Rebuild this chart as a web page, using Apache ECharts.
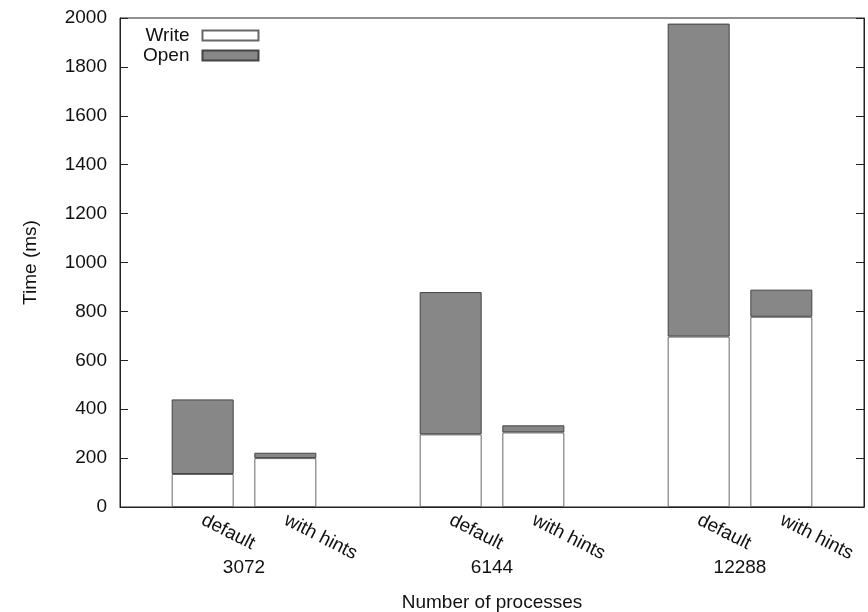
<!DOCTYPE html>
<html>
<head>
<meta charset="utf-8">
<script src="https://cdn.jsdelivr.net/npm/echarts@6/dist/echarts.min.js"></script>
<style>html,body{margin:0;padding:0;background:#fff}#c{width:868px;height:612px}</style>
</head>
<body>
<div id="c"></div>
<script>
const groups = ['3072', '6144', '12288'];
const variants = ['default', 'with hints'];
const writeValues = [135, 200, 297, 305, 697, 778];
const openValues = [305, 22, 582, 29, 1280, 111];
const yTicks = [0, 200, 400, 600, 800, 1000, 1200, 1400, 1600, 1800, 2000];

// build slot categories: blank separator slots between groups
const slots = [''];
const writeSlots = ['-'];
const openSlots = ['-'];
groups.forEach((g, gi) => {
  variants.forEach((v, vi) => {
    slots.push(v);
    writeSlots.push(writeValues[gi * variants.length + vi]);
    openSlots.push(openValues[gi * variants.length + vi]);
  });
  slots.push('');
  writeSlots.push('-');
  openSlots.push('-');
});

const FONT = 'Liberation Sans';
const FS = 19;
const chart = echarts.init(document.getElementById('c'), null, {renderer: 'canvas'});
chart.setOption({
  animation: false,
  textStyle: {fontFamily: FONT},
  grid: {left: 120, right: 4, top: 18, bottom: 105, containLabel: false, outerBoundsMode: 'none', show: true, borderColor: '#222', borderWidth: 1, backgroundColor: 'transparent'},
  legend: {
    data: [{name: 'Write', icon: 'rect'}, {name: 'Open', icon: 'rect'}],
    orient: 'vertical',
    align: 'right',
    left: 138,
    top: 21,
    itemWidth: 56,
    itemHeight: 10,
    itemGap: 1,
    textStyle: {fontSize: FS, color: '#111', fontFamily: FONT, padding: [0, 8, 0, 0]}
  },
  xAxis: [{
    type: 'category',
    data: slots,
    boundaryGap: false,
    axisLine: {lineStyle: {color: '#222'}},
    axisTick: {inside: true, length: 7, lineStyle: {color: '#222'}, interval: (i, v) => v !== ''},
    axisLabel: {interval: 0, rotate: -27, margin: 12, fontSize: FS, color: '#111', fontFamily: FONT},
    splitLine: {show: false}
  }, {
    type: 'category',
    data: groups,
    position: 'bottom',
    offset: 44,
    axisLine: {show: false},
    axisTick: {show: false},
    axisLabel: {fontSize: FS, color: '#111', margin: 7, fontFamily: FONT},
    name: 'Number of processes',
    nameLocation: 'middle',
    nameGap: 42,
    nameTextStyle: {fontSize: FS, color: '#111', fontFamily: FONT}
  }],
  yAxis: [{
    type: 'value',
    min: 0, max: 2000, interval: 200,
    axisLine: {show: true, lineStyle: {color: '#222'}},
    axisTick: {show: true, inside: true, length: 8, lineStyle: {color: '#222'}},
    axisLabel: {fontSize: FS, color: '#111', margin: 13, fontFamily: FONT, formatter: v => String(v)},
    splitLine: {show: false},
    name: 'Time (ms)',
    nameLocation: 'middle',
    nameRotate: 90,
    nameGap: 80,
    nameTextStyle: {fontSize: FS, color: '#111', fontFamily: FONT}
  }, {
    type: 'value',
    position: 'right',
    min: 0, max: 2000, interval: 200,
    axisLine: {show: true, lineStyle: {color: '#222'}},
    axisTick: {show: true, inside: true, length: 8, lineStyle: {color: '#222'}},
    axisLabel: {show: false},
    splitLine: {show: false}
  }],
  series: [{
    name: 'Write',
    type: 'bar',
    stack: 'total',
    data: writeSlots,
    barWidth: 62,
    itemStyle: {color: '#ffffff', borderColor: '#666', borderWidth: 1}
  }, {
    name: 'Open',
    type: 'bar',
    stack: 'total',
    data: openSlots,
    barWidth: 62,
    itemStyle: {color: '#878787', borderColor: '#444', borderWidth: 1}
  }]
});
</script>
</body>
</html>
